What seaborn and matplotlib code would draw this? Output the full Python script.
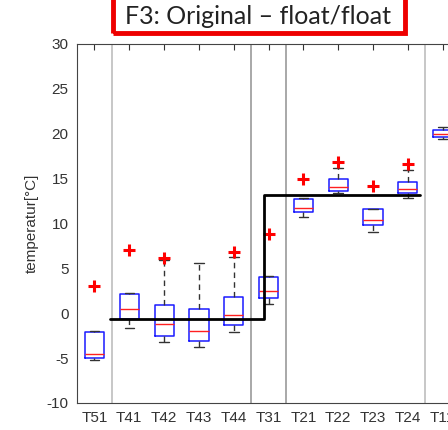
import numpy as np
import pandas as pd
import matplotlib
matplotlib.use('Agg')
import matplotlib.pyplot as plt
from matplotlib.patches import Rectangle
import seaborn as sns

# sensors along the x axis
sensors = ['T51', 'T41', 'T42', 'T43', 'T44', 'T31', 'T21', 'T22', 'T23', 'T24', 'T11']

# box statistics (whisker low, q1, median, q3, whisker high)
whisk_lo = [-5.2, -1.7, -3.2, -3.8, -2.1, 1.0, 10.7, 13.4, 9.0, 12.8, 19.4]
q1 = [-5.0, -0.7, -2.6, -3.1, -1.3, 1.7, 11.3, 13.6, 9.8, 13.4, 19.6]
median = [-4.5, 0.45, -1.2, -2.0, -0.2, 2.5, 11.7, 14.0, 10.4, 13.8, 20.0]
q3 = [-2.1, 2.1, 0.9, 0.45, 1.8, 4.0, 12.7, 14.9, 11.6, 14.6, 20.4]
whisk_hi = [-2.0, 2.2, 5.9, 5.6, 6.3, 4.1, 12.8, 16.2, 11.6, 16.0, 20.7]

# outliers
out_sensor = ['T51', 'T41', 'T42', 'T44', 'T31', 'T21', 'T22', 'T23', 'T24']
out_temp = [3.0, 7.0, 6.1, 6.8, 8.8, 15.0, 16.8, 14.2, 16.6]

# set point (step line) and group separators
step_x = [0.45, 4.87, 4.87, 9.35]
step_y = [-0.6, -0.6, 13.2, 13.2]
separators = [0.5, 4.5, 5.5, 9.5]
sep_colors = ['#bdbdbd', '#999999', '#999999', '#bdbdbd']

rows = []
for i, s in enumerate(sensors):
    for v in (whisk_lo[i], q1[i], median[i], q3[i], whisk_hi[i]):
        rows.append({'sensor': s, 'temp': v})
df = pd.DataFrame(rows)

sns.set_style('white')
plt.rcParams['font.family'] = ['Liberation Sans', 'DejaVu Sans']
plt.rcParams['axes.unicode_minus'] = False

fig = plt.figure(figsize=(4.48, 4.3), dpi=100)
ax = fig.add_axes([0.172, 0.063, 0.855, 0.835])

for xs, c in zip(separators, sep_colors):
    ax.axvline(xs, color=c, lw=1.2, zorder=0)

sns.boxplot(data=df, x='sensor', y='temp', order=sensors, whis=(0, 100),
            width=0.55, fill=False, ax=ax,
            boxprops={'color': '#1a1aff', 'linewidth': 1.1},
            medianprops={'color': '#ff2020', 'linewidth': 1.0},
            whiskerprops={'color': '#333333', 'linewidth': 1.0, 'linestyle': (0, (4, 3))},
            capprops={'color': '#333333', 'linewidth': 1.0})

sns.stripplot(x=out_sensor, y=out_temp, order=sensors, jitter=False, marker='+',
              color='#ff0000', size=9, linewidth=2.2, ax=ax)

ax.plot(step_x, step_y, color='black', lw=2, zorder=5)

ax.set_xlim(-0.5, 10.5)
ax.set_ylim(-10, 30)
ax.set_yticks(np.arange(-10, 31, 5))
ax.set_xlabel('')
ax.set_ylabel('temperatur[°C]', fontsize=11, color='#333333', labelpad=6)
ax.tick_params(direction='in', length=4, top=True, right=True, labelsize=11,
               colors='#333333', pad=6)
for sp in ax.spines.values():
    sp.set_color('#444444')
    sp.set_linewidth(0.8)

# title in red frame
fig.patches.append(Rectangle((113 / 448, 1 - 33 / 430), 292 / 448, 45 / 430,
                             transform=fig.transFigure, fill=False,
                             edgecolor='#ee0000', lw=3.5))
fig.text(258 / 448, 1 - 17 / 430, 'F3: Original – float/float', ha='center', va='center',
         fontsize=18, family=['Lato', 'DejaVu Sans'], color='#222222')

fig.savefig('out.png', dpi=100)
